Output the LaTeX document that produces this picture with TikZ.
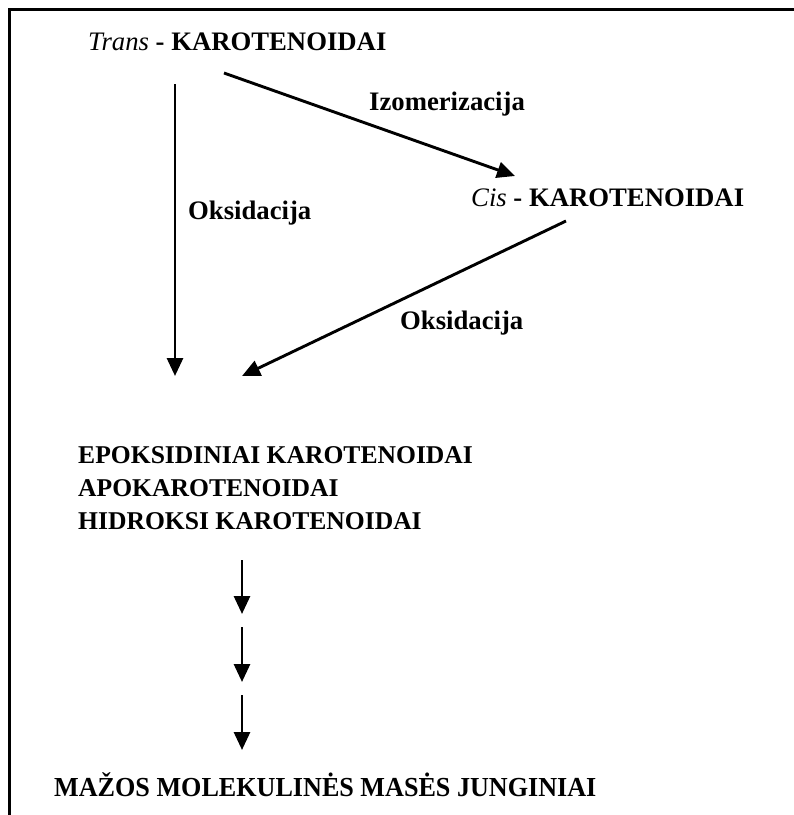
\documentclass[tikz,border=0pt]{standalone}
\usepackage{fontspec}
\setmainfont{Liberation Serif}
\usetikzlibrary{arrows.meta}
\begin{document}
\begin{tikzpicture}[x=1pt,y=-1pt,
  lbl/.style={anchor=base west,inner sep=0pt,font=\fontsize{26.7}{30}\selectfont\bfseries},
  low/.style={anchor=base west,inner sep=0pt,font=\fontsize{25.6}{30}\selectfont\bfseries},
  arr/.style={line width=2.9pt,-{Triangle[length=18pt,width=16pt]}}]
\useasboundingbox (0,0) rectangle (794,815);
\fill[white] (0,0) rectangle (794,815);
\draw[line width=3pt] (9.5,815) -- (9.5,9.5) -- (794,9.5);
% texts
\node[lbl] (trans) at (88,50) {\textit{\mdseries Trans} - KAROTENOIDAI};
\node[lbl] (izo) at (369,110) {Izomerizacija};
\node[lbl] (cis) at (471,206) {\textit{\mdseries Cis} - KAROTENOIDAI};
\node[lbl] (ox1) at (188,219) {Oksidacija};
\node[lbl] (ox2) at (400,329) {Oksidacija};
\node[low] (epo) at (78,463) {EPOKSIDINIAI KAROTENOIDAI};
\node[low] (apo) at (78,496) {APOKAROTENOIDAI};
\node[low] (hid) at (78,529) {HIDROKSI KAROTENOIDAI};
\node[anchor=base west,inner sep=0pt] (maz) at (54,796) {\scalebox{0.95}[1]{\fontsize{27.5}{30}\selectfont\bfseries MAŽOS MOLEKULINĖS MASĖS JUNGINIAI}};
% arrow end points
\coordinate (a1s) at (175,84);
\coordinate (a1e) at (175,376);
\coordinate (a2s) at (224,73);
\coordinate (a2e) at (515,176);
\coordinate (a3s) at (566,221);
\coordinate (a3e) at (242,376);
\coordinate (b1s) at (242,560);
\coordinate (b1e) at (242,614);
\coordinate (b2s) at (242,627);
\coordinate (b2e) at (242,682);
\coordinate (b3s) at (242,695);
\coordinate (b3e) at (242,750);
\draw[arr] (a1s) -- (a1e);
\draw[arr] (a2s) -- (a2e);
\draw[arr] (a3s) -- (a3e);
\draw[arr] (b1s) -- (b1e);
\draw[arr] (b2s) -- (b2e);
\draw[arr] (b3s) -- (b3e);
\end{tikzpicture}
\end{document}
